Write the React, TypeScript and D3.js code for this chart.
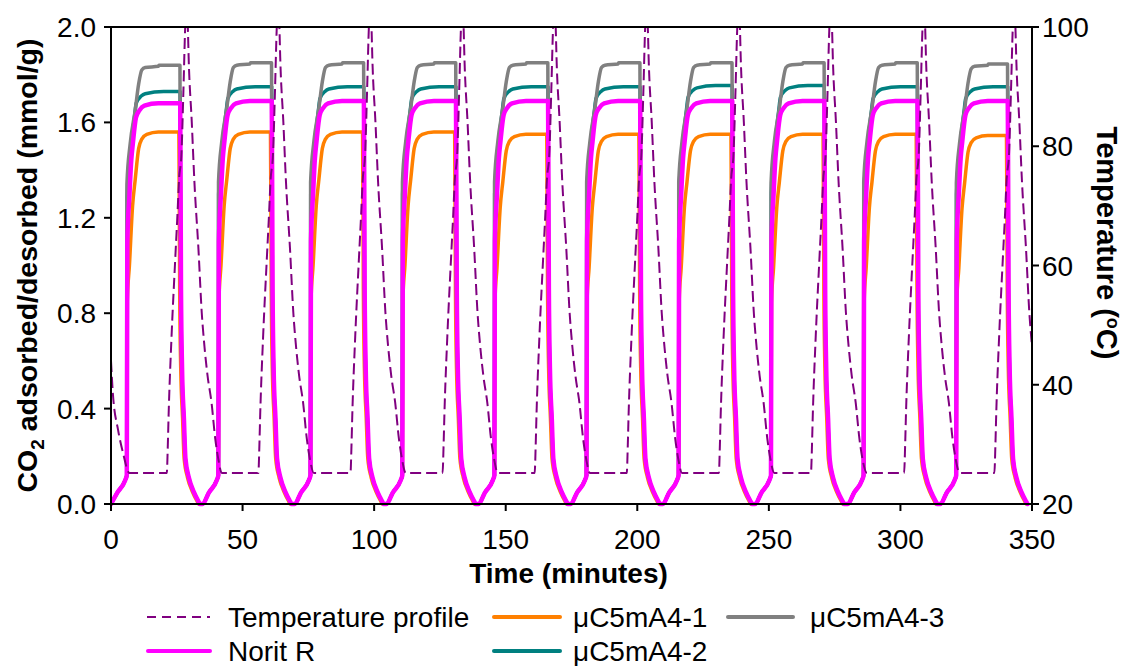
import React from "react";
import * as d3 from "d3";

// ---- axis ticks ----
const xTicks = [0, 50, 100, 150, 200, 250, 300, 350];
const yLeftTicks = [0, 0.4, 0.8, 1.2, 1.6, 2.0];
const yRightTicks = [20, 40, 60, 80, 100];

// ---- cycle timing (minutes) ----
const cycleRise = [6.0, 40.8, 75.8, 110.7, 145.7, 180.7, 215.7, 250.8, 286.0, 321.2];
const cycleDrop = [26.2, 61.0, 96.0, 131.0, 166.0, 201.0, 236.0, 271.0, 306.4, 340.7];

// ---- plateau capacities per cycle (mmol/g) ----
const plateauNorit = [1.68, 1.69, 1.69, 1.69, 1.69, 1.69, 1.69, 1.69, 1.69, 1.69];
const plateauA1 = [1.56, 1.56, 1.56, 1.56, 1.55, 1.55, 1.55, 1.55, 1.55, 1.545];
const plateauA2 = [1.73, 1.75, 1.75, 1.75, 1.75, 1.75, 1.755, 1.755, 1.75, 1.75];
const plateauA3 = [1.84, 1.85, 1.85, 1.85, 1.85, 1.85, 1.85, 1.85, 1.85, 1.845];

// ---- curve shapes read from cycle 2 (offset from rise, value) ----
const rampUp: [number, number][] = [[-6.0, 0], [-3.7, 0.046], [-0.6, 0.1], [0, 0.12]];
const riseNorit: [number, number][] = [[0.2, 1.1], [1.0, 1.3], [1.7, 1.45], [2.3, 1.52], [3.5, 1.63], [4.8, 1.66], [6.7, 1.68], [12, 1.69]];
const riseA1: [number, number][] = [[0.2, 0.85], [1.0, 1.0], [2.2, 1.25], [3.2, 1.36], [4.5, 1.49], [5.7, 1.53], [7.6, 1.55], [12, 1.56]];
const riseA2: [number, number][] = [[0.1, 1.3], [1.5, 1.5], [3.0, 1.65], [3.6, 1.7], [5.5, 1.73], [7.0, 1.74], [14, 1.75]];
const riseA3: [number, number][] = [[0.05, 1.35], [1.3, 1.52], [3.2, 1.66], [4.5, 1.77], [5.7, 1.83], [7.0, 1.84], [12.0, 1.845], [12.2, 1.85]];
// desorption (offset from drop, value)
const dropShape: [number, number][] = [[0.3, 0.9], [0.7, 0.57], [1.4, 0.36], [2.0, 0.19], [3.3, 0.11], [5.2, 0.05], [7.0, 0.01], [7.5, 0]];

// ---- temperature profile (°C) ----
const tempStart: [number, number][] = [[0, 44], [0.7, 38.6], [2.7, 32.4], [4.6, 28.5], [7.0, 25.2]];
const tempPulse: [number, number][] = [
  [-5.0, 25.2], [-4.6, 30], [-4.3, 35], [-3.2, 48], [-1.8, 61], [-0.9, 69], [-0.4, 74], [0.6, 79],
  [1.3, 89], [2.0, 100], [2.5, 104], [3.0, 100], [3.3, 95], [4.5, 84], [5.5, 74], [7.0, 63],
  [8.3, 52], [9.3, 46.5], [10.5, 41.5], [12.0, 37], [13.4, 31], [14.6, 27.5],
];
const tempBase = 25.2;

function buildSeries(riseTpl: [number, number][], plateaus: number[], dropLead: number) {
  const refP = riseTpl[riseTpl.length - 1][1];
  const pts: [number, number][] = [];
  cycleRise.forEach((R, k) => {
    const D = cycleDrop[k] + dropLead;
    const s = plateaus[k] / refP;
    rampUp.forEach(([o, v]) => pts.push([R + o, v]));
    riseTpl.forEach(([o, v]) => {
      if (R + o < D) pts.push([R + o, v * s]);
    });
    pts.push([D, plateaus[k]]);
    dropShape.forEach(([o, v]) => pts.push([D + o, v]));
  });
  return pts;
}

function buildTemp() {
  const pts: [number, number][] = [...tempStart];
  cycleRise.forEach((R, k) => {
    const D = cycleDrop[k];
    if (k > 0) pts.push([R + 1.3, tempBase]);
    tempPulse.forEach(([o, v]) => pts.push([D + o, v]));
  });
  return pts;
}

const W = 1125;
const H = 666;
const L = 111, Rr = 1032, T = 27, B = 504;
const FONT = "'Liberation Sans', Arial, sans-serif";

export default function App() {
  const x = d3.scaleLinear().domain([0, 350]).range([L, Rr]);
  const yL = d3.scaleLinear().domain([0, 2]).range([B, T]);
  const yR = d3.scaleLinear().domain([20, 100]).range([B, T]);

  const lineL = d3.line<[number, number]>().x((d) => x(d[0])).y((d) => yL(d[1])).curve(d3.curveMonotoneX);
  const lineR = d3.line<[number, number]>().x((d) => x(d[0])).y((d) => yR(d[1])).curve(d3.curveMonotoneX);

  const sA1 = buildSeries(riseA1, plateauA1, -0.4);
  const sA2 = buildSeries(riseA2, plateauA2, 0.05);
  const sA3 = buildSeries(riseA3, plateauA3, 0);
  const sNorit = buildSeries(riseNorit, plateauNorit, 0.1);
  const sTemp = buildTemp();

  const colTemp = "#800080";
  const colNorit = "#FF00FF";
  const colA1 = "#FF8000";
  const colA2 = "#008080";
  const colA3 = "#808080";

  return (
    <svg width={W} height={H} style={{ position: "absolute", left: 0, top: 0, background: "#fff" }} fontFamily={FONT}>
      <defs>
        <clipPath id="plot">
          <rect x={L} y={T} width={Rr - L} height={B - T + 3} />
        </clipPath>
      </defs>
      <rect x={0} y={0} width={W} height={H} fill="#fff" />
      <g clipPath="url(#plot)" fill="none" strokeLinejoin="round" strokeLinecap="round">
        <path d={lineL(sA1) || ""} stroke={colA1} strokeWidth={3.5} />
        <path d={lineL(sA2) || ""} stroke={colA2} strokeWidth={3.5} />
        <path d={lineL(sA3) || ""} stroke={colA3} strokeWidth={3.5} />
        <path d={lineL(sNorit) || ""} stroke={colNorit} strokeWidth={4.5} />
        <path d={lineR(sTemp) || ""} stroke={colTemp} strokeWidth={2} strokeDasharray="11,5" strokeLinecap="butt" />
      </g>
      {/* frame */}
      <g stroke="#000" strokeWidth={2} fill="none">
        <line x1={L} y1={T} x2={Rr} y2={T} />
        <line x1={L} y1={T} x2={L} y2={B} />
        <line x1={Rr} y1={T} x2={Rr} y2={B} />
        <line x1={L} y1={B} x2={Rr} y2={B} />
      </g>
      {/* x axis */}
      {xTicks.map((t) => (
        <g key={"x" + t}>
          <line x1={x(t)} x2={x(t)} y1={B} y2={B + 7} stroke="#000" strokeWidth={2} />
          <text x={x(t)} y={549} fontSize={28} textAnchor="middle" fill="#000">
            {t}
          </text>
        </g>
      ))}
      {/* left axis */}
      {yLeftTicks.map((t) => (
        <g key={"yl" + t}>
          <line x1={L - 7} x2={L} y1={yL(t)} y2={yL(t)} stroke="#000" strokeWidth={2} />
          <text x={96} y={yL(t) + 10} fontSize={28} textAnchor="end" fill="#000">
            {t.toFixed(1)}
          </text>
        </g>
      ))}
      {/* right axis */}
      {yRightTicks.map((t) => (
        <g key={"yr" + t}>
          <line x1={Rr} x2={Rr + 7} y1={yR(t)} y2={yR(t)} stroke="#000" strokeWidth={2} />
          <text x={1042} y={yR(t) + 10} fontSize={28} textAnchor="start" fill="#000">
            {t}
          </text>
        </g>
      ))}
      {/* axis titles */}
      <text x={(L + Rr) / 2 - 3} y={583} fontSize={28} fontWeight="bold" textAnchor="middle" fill="#000">
        Time (minutes)
      </text>
      <text transform={`translate(37, ${(T + B) / 2}) rotate(-90)`} fontSize={28.5} fontWeight="bold" textAnchor="middle" fill="#000">
        CO
        <tspan fontSize={19} dy={7}>2</tspan>
        <tspan dy={-7}> adsorbed/desorbed (mmol/g)</tspan>
      </text>
      <text transform={`translate(1097, ${243}) rotate(90)`} fontSize={29} fontWeight="bold" textAnchor="middle" fill="#000">
        Temperature (
        <tspan fontSize={18} dy={-10}>o</tspan>
        <tspan dy={10}>C)</tspan>
      </text>
      {/* legend */}
      <g fontSize={28} fill="#000">
        <line x1={147} x2={210} y1={617} y2={617} stroke={colTemp} strokeWidth={2} strokeDasharray="9,6" />
        <text x={228} y={627}>Temperature profile</text>
        <line x1={148} x2={210} y1={651} y2={651} stroke={colNorit} strokeWidth={4} strokeLinecap="round" />
        <text x={228} y={661}>Norit R</text>
        <line x1={494} x2={560} y1={617} y2={617} stroke={colA1} strokeWidth={4} strokeLinecap="round" />
        <text x={573} y={627}>μC5mA4-1</text>
        <line x1={494} x2={560} y1={651} y2={651} stroke={colA2} strokeWidth={4} strokeLinecap="round" />
        <text x={573} y={661}>μC5mA4-2</text>
        <line x1={728} x2={793} y1={617} y2={617} stroke={colA3} strokeWidth={4} strokeLinecap="round" />
        <text x={810} y={627}>μC5mA4-3</text>
      </g>
    </svg>
  );
}
